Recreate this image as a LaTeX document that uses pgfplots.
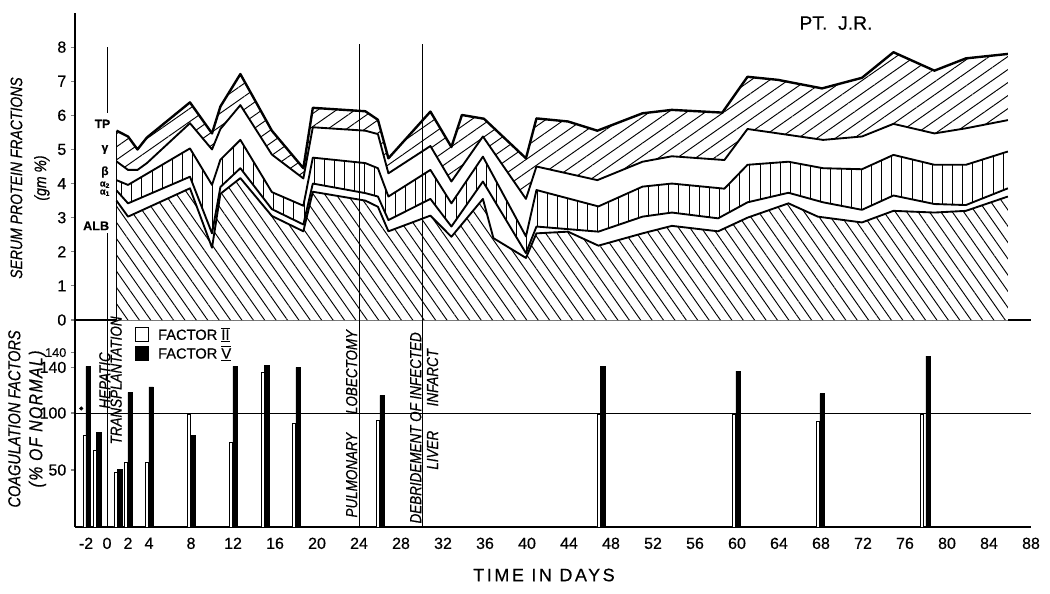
\documentclass[border=0pt]{standalone}
\usepackage{fontspec}
\setmainfont{Liberation Sans}[FakeBold=0.5]
\newfontfamily\cond[FakeStretch=0.84,FakeBold=0.5]{Liberation Sans}
\usepackage{pgfplots}
\usepackage{pgfplotstable}
\pgfplotsset{compat=1.18}
\usetikzlibrary{patterns.meta}

% one pixel of the reference = 0.75pt
\tikzset{
  gam/.style={pattern={Lines[angle=35,distance=8pt,line width=0.7pt]}},
  alp/.style={pattern={Lines[angle=90,distance=7.6pt,line width=0.7pt]}},
  alb/.style={pattern={Lines[angle=-55,distance=7pt,line width=0.7pt]}},
}
\pgfplotsset{
  band/.style={draw=none, fill=white, forget plot},
  edge/.style={black, line width=1.4pt, line join=round, forget plot},
  event/.style={black, line width=0.7pt, forget plot},
}

% serum protein fractions: upper edge of each layer (gm %)
\pgfplotstableread{
day v
0.9 5.55
2.0 5.38
2.9 5.00
3.8 5.35
7.9 6.38
10.0 5.47
10.8 6.26
12.7 7.21
15.7 5.55
18.7 4.45
19.6 6.22
24.6 6.12
25.8 5.87
26.8 4.74
30.8 6.11
32.8 5.07
33.8 6.01
35.9 5.90
39.9 4.74
40.9 5.91
43.9 5.82
46.7 5.55
51.0 6.06
53.8 6.16
58.6 6.08
61.0 7.13
63.9 7.04
68.1 6.79
71.9 7.10
74.9 7.85
78.8 7.31
81.8 7.67
85.8 7.80
}\tp
\pgfplotstableread{
day v
0.9 4.65
2.0 4.40
2.9 4.40
3.8 4.60
7.9 5.77
10.0 5.00
10.8 5.60
12.7 6.30
15.7 4.85
18.7 4.15
19.6 5.65
24.6 5.55
25.8 5.45
26.8 4.30
30.8 5.10
32.8 4.06
35.8 5.38
39.9 3.55
40.9 4.50
46.7 4.10
51.0 4.64
53.8 4.80
58.8 4.69
61.0 5.60
68.2 5.28
71.9 5.38
74.9 5.75
78.8 5.47
81.8 5.62
85.8 5.86
}\beta
\pgfplotstableread{
day v
0.9 4.10
2.0 3.96
7.9 5.03
10.0 3.96
10.8 4.70
12.7 5.28
15.7 3.75
18.7 3.35
19.6 4.76
24.6 4.60
25.8 4.45
26.8 3.62
30.8 4.40
32.8 3.42
35.8 4.79
39.9 2.45
40.9 3.81
46.8 3.33
51.0 3.91
53.8 4.00
58.8 3.85
61.0 4.55
64.9 4.64
68.2 4.45
71.9 4.42
74.9 4.84
78.8 4.55
81.8 4.55
85.8 4.94
}\alphatwo
\pgfplotstableread{
day v
0.9 3.80
2.0 3.42
7.9 4.20
10.0 2.54
10.8 3.90
12.7 4.45
15.7 3.25
18.7 2.80
19.6 4.00
24.6 3.72
25.8 3.62
26.8 2.93
30.8 3.55
32.8 2.74
35.8 4.06
39.9 1.96
40.9 2.74
46.8 2.59
51.0 3.03
53.8 3.15
58.2 2.98
61.0 3.45
64.9 3.73
68.2 3.45
71.9 3.23
74.9 3.65
78.8 3.40
81.8 3.37
85.8 3.86
}\alphaone
\pgfplotstableread{
day v
0.9 3.50
2.0 3.03
7.9 3.86
10.0 2.12
10.8 3.70
12.7 4.16
15.7 3.05
18.7 2.60
19.6 3.76
24.6 3.50
25.8 3.32
26.8 2.60
30.8 3.06
32.8 2.44
35.8 3.55
36.8 2.40
39.9 1.82
40.9 2.54
43.9 2.59
46.8 2.18
51.0 2.54
53.8 2.76
58.2 2.60
61.0 3.00
64.9 3.42
67.7 3.03
71.9 2.86
74.9 3.20
78.8 3.15
81.8 3.20
85.8 3.62
}\alb

\begin{document}
\begin{tikzpicture}
\useasboundingbox (-56.25pt,-204.75pt) rectangle (731.25pt,240pt);

% ---------- serum proteins ----------
\begin{axis}[
  at={(0pt,0pt)}, anchor=south west,
  scale only axis, width=717pt, height=230.25pt,
  xmin=-3.05, xmax=88, ymin=0, ymax=9,
  clip=false,
  axis x line*=bottom, axis y line*=left,
  axis line style={-, line width=1.1pt},
  xtick=\empty, ytick={0,1,...,8},
  tick align=outside, major tick length=3pt,
  tick style={line width=0.8pt},
  yticklabel style={font=\fontsize{12}{12}\selectfont},
  /pgf/number format/assume math mode=true,
]
\addplot[band, postaction={gam}] table {\tp} \closedcycle;
\addplot[edge, line width=1.8pt] table {\tp};
\addplot[band] table {\beta} \closedcycle;
\addplot[edge] table {\beta};
\addplot[band, postaction={alp}] table {\alphatwo} \closedcycle;
\addplot[edge] table {\alphatwo};
\addplot[band] table {\alphaone} \closedcycle;
\addplot[edge] table {\alphaone};
\addplot[band, postaction={alb}] table {\alb} \closedcycle;
\addplot[edge] table {\alb};
\addplot[edge] coordinates {(0.9,0) (0.9,5.55)};
% operations
\addplot[event] coordinates {(0,0) (0,2.55)};
\addplot[event] coordinates {(0,6.07) (0,8.0)};
\addplot[event] coordinates {(24,0) (24,8.1)};
\addplot[event] coordinates {(30,0) (30,8.1)};

\node[anchor=east, font=\bfseries\fontsize{9}{9}\selectfont] at (axis cs:0.75,5.75) {TP};
\node[font=\bfseries\fontsize{9}{9}\selectfont] at (axis cs:-0.2,5.0) {γ};
\node[font=\bfseries\fontsize{9}{9}\selectfont] at (axis cs:-0.2,4.34) {β};
\node[font=\bfseries\fontsize{7}{7}\selectfont, align=center, inner sep=0pt] at (axis cs:-0.2,3.85) {α\textsubscript{2}\\[-1pt]α\textsubscript{1}};
\node[anchor=east, font=\bfseries\fontsize{9.5}{9.5}\selectfont] at (axis cs:0.65,2.76) {ALB};

\node[font=\fontsize{14.5}{14.5}\selectfont] at (axis description cs:0.796,0.967) {PT.\ \ J.R.};
\node[rotate=90, align=center, font=\cond\itshape\fontsize{12.5}{18}\selectfont]
  at (axis description cs:-0.047,0.4625) {SERUM PROTEIN FRACTIONS\\(gm \%)};
\end{axis}

% ---------- coagulation factors ----------
\begin{axis}[
  at={(0pt,0pt)}, anchor=north west,
  scale only axis, width=717pt, height=155.25pt,
  xmin=-3.05, xmax=88, ymin=0, ymax=181.6,
  clip=false,
  axis x line*=bottom, axis y line*=left,
  axis line style={-, line width=1.1pt},
  xtick={-2,0,2,4,8,12,16,20,24,28,32,36,40,44,48,52,56,60,64,68,72,76,80,84,88},
  ytick={50,100,140,153},
  yticklabels={50,100,140,{\fontsize{9.5}{9.5}\selectfont 140}},
  xtick style={draw=none},
  ytick style={line width=0.8pt},
  tick align=outside, major tick length=3pt,
  ticklabel style={font=\fontsize{12}{12}\selectfont},
  xticklabel style={yshift=-1.5pt},
  /pgf/number format/assume math mode=true,
  legend style={at={(axis cs:2.6,178)}, anchor=north west, draw=none, fill=none,
    font=\fontsize{11}{11}\selectfont, row sep=-1pt, inner sep=0pt,
    cells={anchor=west}},
]
\addplot[ybar, bar width=0.3, bar shift=0pt, fill=white, draw=black, line width=0.5pt,
  legend image code/.code={\draw[fill=white,draw=black,line width=0.8pt] (0pt,-5pt) rectangle (10pt,5pt); \path (15pt,0pt);}]
  coordinates {(-2.15,80.5) (-1.15,67) (0.8,48) (1.8,57) (3.8,57) (7.8,99) (11.8,74.6)
    (14.8,135.6) (17.8,91) (25.8,93.6) (46.8,99) (59.7,99) (67.7,92.7) (77.6,99)};
\addlegendentry{FACTOR $\overline{\underline{\hbox{II}}}$}
\addplot[ybar, bar width=0.42, bar shift=0pt, fill=black, draw=black,
  legend image code/.code={\draw[fill=black,draw=black] (0pt,-5pt) rectangle (10pt,5pt); \path (15pt,0pt);}]
  coordinates {(-1.8,141) (-0.8,83) (1.2,50.5) (2.2,118) (4.2,123) (8.2,80.5) (12.2,141)
    (15.2,142) (18.2,140) (26.2,115.5) (47.2,141) (60.1,136.7) (68.1,117) (78.2,150)};
\addlegendentry{FACTOR $\overline{\underline{\hbox{V}}}$}
\addplot[only marks, mark=*, mark size=1.3pt, black, forget plot] coordinates {(-2.45,104)};

\addplot[event] coordinates {(-3.05,100) (88,100)};
\addplot[event] coordinates {(0,0) (0,181.6)};
\addplot[event] coordinates {(24,0) (24,181.6)};
\addplot[event] coordinates {(30,0) (30,181.6)};

\node[rotate=90, align=center, font=\cond\itshape\fontsize{12}{8.5}\selectfont]
  at (axis cs:0.33,128.6) {HEPATIC\\TRANSPLANTATION};
\node[rotate=90, font=\cond\itshape\fontsize{12}{12}\selectfont] at (axis cs:23.3,45.5) {PULMONARY};
\node[rotate=90, font=\cond\itshape\fontsize{12}{12}\selectfont] at (axis cs:23.3,136) {LOBECTOMY};
\node[rotate=90, font=\cond\itshape\fontsize{12}{12}\selectfont] at (axis cs:29.4,87) {DEBRIDEMENT OF INFECTED};
\node[rotate=90, font=\cond\itshape\fontsize{12}{12}\selectfont] at (axis cs:31,67.4) {LIVER};
\node[rotate=90, font=\cond\itshape\fontsize{12}{12}\selectfont] at (axis cs:31,131) {INFARCT};

\node[rotate=90, align=center, font=\cond\itshape\fontsize{13}{16.5}\selectfont]
  at (axis description cs:-0.05,0.522) {COAGULATION FACTORS\\{\fontsize{14}{16.5}\selectfont\addfontfeature{LetterSpace=8}(\% OF NORMAL)}};
\node[font=\fontsize{13.5}{13.5}\selectfont\addfontfeature{LetterSpace=14}]
  at (axis description cs:0.4906,-0.232) {TIME IN DAYS};
\end{axis}
\end{tikzpicture}
\end{document}
